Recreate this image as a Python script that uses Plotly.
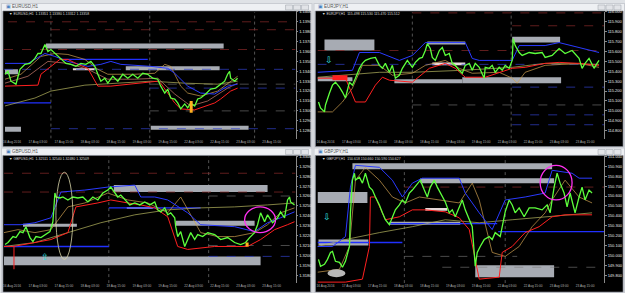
import plotly.graph_objects as go

W, H = 625, 293

# ---------------- DATA ----------------
symbols = ["EURUSD,H1", "EURJPY,H1", "GBPUSD,H1", "GBPJPY,H1"]
ohlc_text = ["1.13351 1.13380 1.13312 1.13358", "115.498 115.530 115.470 115.512",
             "1.32511 1.32540 1.32480 1.32509", "150.618 150.660 150.590 150.627"]
last_price = [1.1333, 115.50, 1.3250, 150.62]

date_labels = ["16 Aug 2016", "17 Aug 03:00", "17 Aug 15:00", "18 Aug 03:00", "18 Aug 15:00",
               "19 Aug 03:00", "19 Aug 15:00", "22 Aug 03:00", "22 Aug 15:00", "23 Aug 03:00",
               "23 Aug 15:00"]

# Panel 1 : EURUSD
p1_x = [1, 4, 7, 12, 16, 21, 26, 31, 34, 37, 41, 44, 47, 52, 57, 62, 67, 72, 77, 82, 87, 91, 94, 97,
        101, 104, 109, 114, 119, 124, 129, 134, 139, 144, 149, 154, 157, 161, 164, 167, 171, 174, 177,
        181, 184, 187, 191, 194, 197, 202, 207, 212, 217, 221, 224, 226, 227, 231, 234]
p1_y = [1.1337, 1.1340, 1.1330, 1.1327, 1.1342, 1.1347, 1.1348, 1.1353, 1.1358, 1.1358, 1.1367, 1.1360,
        1.1362, 1.1357, 1.1352, 1.1348, 1.1347, 1.1345, 1.1348, 1.1347, 1.1350, 1.1345, 1.1337, 1.1330,
        1.1333, 1.1328, 1.1335, 1.1330, 1.1337, 1.1333, 1.1337, 1.1333, 1.1338, 1.1337, 1.1333, 1.1332,
        1.1325, 1.1318, 1.1322, 1.1313, 1.1312, 1.1308, 1.1302, 1.1307, 1.1303, 1.1308, 1.1305, 1.1312,
        1.1313, 1.1317, 1.1322, 1.1323, 1.1327, 1.1330, 1.1337, 1.1340, 1.1333, 1.1330, 1.1333]
p1_red_x = [1, 34, 37, 47, 56, 64, 74, 84, 94, 107, 137, 154, 157, 171, 177, 191, 211, 217, 227, 234]
p1_red_y = [1.1325, 1.1326, 1.1337, 1.1345, 1.1352, 1.1352, 1.1347, 1.1343, 1.1325, 1.1325, 1.1328,
            1.1330, 1.1328, 1.1308, 1.1302, 1.1301, 1.1308, 1.1312, 1.1320, 1.1323]
p1_blue_x = [1, 24, 41, 51, 64, 84, 97, 107, 117, 147, 164, 171, 184, 197, 211, 224, 234]
p1_blue_y = [1.1348, 1.1348, 1.1358, 1.1355, 1.1350, 1.1345, 1.1347, 1.1350, 1.1347, 1.1345, 1.1343,
             1.1338, 1.1325, 1.1318, 1.1317, 1.1325, 1.1327]
p1_orange_x = [1, 17, 37, 51, 64, 81, 94, 104, 131, 151, 161, 167, 177, 184, 197, 214, 234]
p1_orange_y = [1.1332, 1.1337, 1.1355, 1.1358, 1.1357, 1.1352, 1.1342, 1.1337, 1.1337, 1.1338, 1.1347,
               1.1345, 1.1325, 1.1318, 1.1315, 1.1320, 1.1335]
p1_salmon_x = [1, 24, 44, 64, 84, 104, 131, 154, 171, 187, 204, 224, 234]
p1_salmon_y = [1.1328, 1.1335, 1.1350, 1.1348, 1.1342, 1.1332, 1.1332, 1.1333, 1.1317, 1.1305, 1.1310,
               1.1323, 1.1328]
p1_ma_x = [1, 31, 47, 81, 114, 147, 181, 214, 234]
p1_ma_y = [1.1305, 1.1313, 1.1320, 1.1326, 1.1328, 1.1330, 1.1328, 1.1327, 1.1330]

# Panel 2 : EURJPY
p2_x = [1, 3, 7, 8, 12, 15, 18, 22, 25, 28, 32, 35, 38, 42, 45, 48, 53, 58, 62, 65, 68, 72, 75, 78, 82,
        85, 90, 95, 98, 102, 105, 108, 110, 113, 115, 118, 122, 125, 128, 132, 135, 138, 142, 145, 148,
        152, 155, 158, 162, 165, 167, 168, 172, 175, 178, 182, 185, 188, 192, 195, 196, 198, 202, 205,
        212, 218, 225, 228, 235, 242, 248, 255, 262, 265, 268, 272, 277, 280, 282]
p2_y = [115.09, 115.03, 114.99, 115.06, 115.18, 115.26, 115.29, 115.24, 115.19, 115.13, 115.29, 115.26,
        115.33, 115.43, 115.48, 115.51, 115.53, 115.54, 115.46, 115.43, 115.48, 115.39, 115.46, 115.33,
        115.36, 115.43, 115.51, 115.44, 115.49, 115.53, 115.54, 115.61, 115.68, 115.63, 115.54, 115.51,
        115.61, 115.64, 115.56, 115.58, 115.48, 115.46, 115.41, 115.38, 115.46, 115.48, 115.41, 115.48,
        115.44, 115.38, 115.33, 115.44, 115.43, 115.46, 115.39, 115.44, 115.41, 115.46, 115.43, 115.51,
        115.73, 115.66, 115.59, 115.56, 115.59, 115.58, 115.59, 115.54, 115.56, 115.63, 115.58, 115.61,
        115.53, 115.43, 115.48, 115.53, 115.43, 115.48, 115.51]
p2_red_x = [0, 28, 38, 48, 58, 65, 72, 95, 112, 128, 138, 148, 168, 182, 195, 208, 228, 242, 262, 282]
p2_red_y = [115.33, 115.33, 115.09, 115.09, 115.26, 115.34, 115.31, 115.29, 115.43, 115.48, 115.43,
            115.34, 115.34, 115.39, 115.43, 115.44, 115.48, 115.49, 115.48, 115.46]
p2_blue_x = [0, 35, 42, 62, 82, 95, 108, 148, 155, 162, 182, 195, 202, 228, 242, 262, 282]
p2_blue_y = [115.39, 115.41, 115.59, 115.59, 115.51, 115.56, 115.69, 115.69, 115.53, 115.51, 115.51,
             115.51, 115.66, 115.66, 115.69, 115.64, 115.59]
p2_orange_x = [0, 15, 25, 35, 45, 62, 75, 95, 108, 128, 142, 155, 182, 195, 200, 208, 228, 262, 282]
p2_orange_y = [114.99, 114.99, 115.09, 115.23, 115.46, 115.46, 115.36, 115.38, 115.46, 115.51, 115.43,
               115.38, 115.39, 115.33, 115.28, 115.39, 115.46, 115.48, 115.44]
p2_ma_x = [0, 62, 95, 145, 195, 228, 282]
p2_ma_y = [115.34, 115.39, 115.39, 115.41, 115.44, 115.48, 115.47]

# Panel 3 : GBPUSD
p3_x = [1, 4, 9, 12, 16, 19, 22, 26, 29, 32, 37, 42, 46, 49, 51, 52, 56, 59, 64, 69, 74, 79, 84, 89, 94,
        99, 104, 107, 111, 114, 117, 122, 126, 131, 136, 141, 146, 151, 154, 157, 161, 164, 167, 171,
        172, 174, 177, 181, 184, 187, 191, 194, 199, 204, 211, 217, 224, 231, 237, 242, 246, 251, 254,
        257, 261, 264, 269, 274, 277, 281, 284, 286, 287, 291]
p3_y = [1.3211, 1.3213, 1.3219, 1.3218, 1.3224, 1.3223, 1.3229, 1.3218, 1.3214, 1.3219, 1.3218, 1.3221,
        1.3224, 1.3234, 1.3263, 1.3259, 1.3258, 1.3259, 1.3256, 1.3259, 1.3258, 1.3259, 1.3254, 1.3259,
        1.3256, 1.3263, 1.3266, 1.3269, 1.3263, 1.3259, 1.3261, 1.3256, 1.3251, 1.3253, 1.3251, 1.3254,
        1.3251, 1.3254, 1.3246, 1.3244, 1.3248, 1.3241, 1.3243, 1.3238, 1.3229, 1.3219, 1.3224, 1.3209,
        1.3216, 1.3223, 1.3216, 1.3221, 1.3219, 1.3223, 1.3221, 1.3216, 1.3218, 1.3213, 1.3211, 1.3213,
        1.3218, 1.3223, 1.3231, 1.3243, 1.3234, 1.3241, 1.3233, 1.3238, 1.3244, 1.3238, 1.3256, 1.3259,
        1.3254, 1.3251]
p3_red_x = [0, 9, 31, 47, 64, 72, 94, 107, 124, 137, 151, 164, 174, 184, 211, 244, 257, 271, 284, 291]
p3_red_y = [1.3209, 1.3209, 1.3213, 1.3216, 1.3223, 1.3249, 1.3253, 1.3256, 1.3253, 1.3251, 1.3248,
            1.3239, 1.3209, 1.3206, 1.3209, 1.3209, 1.3216, 1.3226, 1.3231, 1.3234]
p3_spike_x = [10, 10]
p3_spike_y = [1.3209, 1.3186]
p3_blue_x = [0, 17, 31, 47, 57, 81, 104, 131, 137, 151, 164, 184, 197, 231, 251, 264, 277, 291]
p3_blue_y = [1.3231, 1.3231, 1.3233, 1.3238, 1.3264, 1.3266, 1.3269, 1.3271, 1.3259, 1.3259, 1.3256,
             1.3243, 1.3231, 1.3229, 1.3224, 1.3233, 1.3238, 1.3244]
p3_orange_x = [0, 14, 31, 47, 64, 81, 104, 124, 144, 164, 177, 184, 197, 214, 231, 251, 264, 277, 291]
p3_orange_y = [1.3223, 1.3226, 1.3223, 1.3226, 1.3249, 1.3253, 1.3263, 1.3256, 1.3253, 1.3243, 1.3259,
               1.3246, 1.3223, 1.3219, 1.3219, 1.3223, 1.3231, 1.3243, 1.3248]
p3_ma_x = [0, 31, 64, 97, 131, 164, 197, 231, 264, 291]
p3_ma_y = [1.3209, 1.3213, 1.3223, 1.3233, 1.3241, 1.3246, 1.3248, 1.3249, 1.3251, 1.3253]

# Panel 4 : GBPJPY
p4_x = [1, 3, 7, 10, 13, 15, 18, 22, 25, 28, 32, 33, 35, 37, 38, 42, 45, 48, 52, 55, 58, 62, 65, 68,
        72, 75, 78, 82, 85, 88, 92, 95, 100, 103, 107, 110, 113, 117, 120, 123, 128, 132, 135, 138, 142,
        145, 148, 152, 155, 158, 160, 163, 167, 172, 175, 178, 183, 188, 192, 195, 198, 202, 207, 212,
        218, 225, 230, 233, 237, 240, 243, 247, 250, 253, 258, 262, 265, 268, 272, 275]
p4_y = [149.96, 149.89, 149.91, 149.96, 150.03, 150.04, 149.94, 149.93, 149.88, 149.94, 150.09, 150.43,
        150.76, 150.83, 150.76, 150.79, 150.73, 150.83, 150.69, 150.66, 150.59, 150.51, 150.43, 150.36,
        150.31, 150.39, 150.46, 150.51, 150.56, 150.53, 150.63, 150.66, 150.73, 150.76, 150.66, 150.59,
        150.69, 150.76, 150.69, 150.63, 150.54, 150.43, 150.46, 150.39, 150.49, 150.56, 150.46, 150.36,
        150.29, 149.89, 150.03, 150.09, 150.16, 150.19, 150.16, 150.23, 150.19, 150.44, 150.56, 150.51,
        150.43, 150.48, 150.39, 150.48, 150.48, 150.46, 150.51, 150.43, 150.69, 150.83, 150.73, 150.63,
        150.49, 150.63, 150.43, 150.59, 150.69, 150.56, 150.66, 150.63]
p4_red_x = [0, 28, 45, 52, 53, 58, 68, 82, 95, 108, 128, 142, 152, 162, 182, 185, 195, 208, 222, 235, 248, 275]
p4_red_y = [149.73, 149.73, 149.76, 150.09, 150.59, 150.59, 150.36, 150.39, 150.46, 150.46, 150.44,
            150.38, 150.26, 149.76, 149.78, 150.03, 150.09, 150.23, 150.29, 150.39, 150.41, 150.41]
p4_blue_x = [0, 15, 28, 33, 38, 62, 75, 85, 95, 105, 142, 148, 162, 175, 188, 208, 228, 235, 255, 262, 275]
p4_blue_y = [150.09, 150.09, 150.19, 150.69, 150.91, 150.89, 150.76, 150.59, 150.73, 150.78, 150.78,
             150.63, 150.43, 150.26, 150.56, 150.59, 150.63, 150.86, 150.83, 150.78, 150.78]
p4_orange_x = [0, 22, 32, 38, 48, 62, 75, 88, 102, 122, 142, 155, 162, 175, 188, 202, 215, 228, 235,
               248, 262, 275]
p4_orange_y = [149.83, 149.86, 150.09, 150.76, 150.89, 150.76, 150.59, 150.53, 150.59, 150.56, 150.53,
               150.73, 150.56, 150.03, 149.99, 150.09, 150.29, 150.43, 150.56, 150.76, 150.59, 150.53]
p4_ma_x = [0, 28, 62, 95, 128, 162, 195, 228, 275]
p4_ma_y = [150.09, 150.16, 150.23, 150.29, 150.36, 150.33, 150.36, 150.39, 150.43]

# Supply / demand zones: x0, x1, low, high
p1_zones = [(42, 220, 1.1363, 1.1368), (122, 216, 1.1341, 1.1345), (1, 14, 1.1337, 1.1342),
            (1, 17, 1.1279, 1.1284), (147, 245, 1.1281, 1.1285)]
p2_zones = [(7, 57, 115.61, 115.72), (110, 148, 115.67, 115.70), (77, 145, 115.28, 115.32),
            (145, 244, 115.28, 115.34), (195, 243, 115.69, 115.75), (0, 35, 115.30, 115.34)]
p3_zones = [(110, 264, 1.3264, 1.3271), (19, 73, 1.3229, 1.3232), (172, 251, 1.3230, 1.3235),
            (0, 257, 1.3190, 1.3199)]
p4_zones = [(35, 235, 150.87, 150.93), (103, 237, 150.73, 150.78), (0, 50, 150.53, 150.64),
            (1, 51, 150.10, 150.16), (72, 143, 150.31, 150.34), (158, 237, 149.78, 149.90)]
pale_zones = [[(69, 91, 1.1341, 1.1343)], [(115, 148, 115.46, 115.49)],
              [(123, 149, 1.3247, 1.3249)], [(108, 130, 150.45, 150.48)]]
marker_zones = [[(186, 189, 1.1298, 1.1310)], [(15, 30, 115.31, 115.36)],
                [(242, 245, 1.3209, 1.3213)], []]

# Level lines: price, x0, x1, kind
p1_levels = [(1.1390, 4, 292, "res"), (1.1382, 47, 292, "res"), (1.1362, 0, 292, "res"),
             (1.1342, 0, 292, "blue"), (1.1352, 57, 144, "bluesolid"), (1.1327, 146, 292, "grey"),
             (1.1323, 146, 292, "blue"), (1.1300, 146, 292, "grey"), (1.1308, 0, 47, "bluesolid"),
             (1.1282, 47, 292, "blue")]
p2_levels = [(115.99, 95, 287, "res"), (115.86, 195, 287, "res"), (115.61, 0, 287, "res"),
             (115.47, 0, 287, "blue"), (115.06, 95, 287, "grey"), (114.96, 195, 287, "blue"),
             (114.86, 195, 287, "blue"), (115.24, 195, 287, "blue")]
p3_levels = [(1.3283, 0, 292, "res"), (1.3264, 0, 292, "res"), (1.3209, 0, 105, "bluesolid"),
             (1.3199, 205, 292, "blue"), (1.3260, 205, 292, "grey"), (1.3210, 205, 292, "grey"),
             (1.3248, 105, 197, "bluesolid")]
p4_levels = [(150.24, 181, 287, "bluesolid"), (150.13, 0, 85, "bluesolid"), (150.69, 87, 287, "res"),
             (149.88, 125, 287, "grey"), (149.99, 87, 200, "grey"), (150.32, 72, 180, "bluesolid")]

separators = [[47, 146, 251], [95, 194], [105, 205], [87, 188]]

# ellipses: panel, x0, x1, low, high, kind
ellipses = [(2, 52, 69, 1.3196, 1.3284, "yellow"), (2, 241, 272, 1.3223, 1.3249, "magenta"),
            (3, 223, 255, 150.56, 150.91, "magenta"), (3, 10, 28, 149.78, 149.86, "blob")]
arrows = [(1, 12, 115.51, "⇩"), (2, 41, 1.3198, "⇧"), (3, 10, 150.39, "⇩")]

# ---------------- LAYOUT ----------------
plot_px = [(3, 295, 9, 137), (317, 604, 9, 137), (3, 295, 155, 283), (317, 604, 155, 283)]
win_px = [(0, 312, 0, 146), (313, 625, 0, 146), (0, 312, 146, 293), (313, 625, 146, 293)]
yranges = [(1.1272, 1.1400), (114.72, 116.00), (1.3172, 1.3300), (149.72, 151.00)]
dticks = [0.001, 0.1, 0.001, 0.1]
fmts = [".4f", ".3f", ".4f", ".3f"]
xw = [292, 287, 292, 287]

fig = go.Figure()
series = [
    (p1_x, p1_y, [(p1_ma_x, p1_ma_y), (p1_salmon_x, p1_salmon_y), (p1_orange_x, p1_orange_y),
                  (p1_blue_x, p1_blue_y), (p1_red_x, p1_red_y)]),
    (p2_x, p2_y, [(p2_ma_x, p2_ma_y), (p2_orange_x, p2_orange_y), (p2_blue_x, p2_blue_y),
                  (p2_red_x, p2_red_y)]),
    (p3_x, p3_y, [(p3_ma_x, p3_ma_y), (p3_orange_x, p3_orange_y), (p3_blue_x, p3_blue_y),
                  (p3_red_x, p3_red_y), (p3_spike_x, p3_spike_y)]),
    (p4_x, p4_y, [(p4_ma_x, p4_ma_y), (p4_orange_x, p4_orange_y), (p4_blue_x, p4_blue_y),
                  (p4_red_x, p4_red_y)]),
]
zones = [p1_zones, p2_zones, p3_zones, p4_zones]
levels = [p1_levels, p2_levels, p3_levels, p4_levels]

style_lists = [
    [("#b8b860", 0.7), ("#d08070", 0.7), ("#d0a050", 0.7), ("#2a3aff", 1.0), ("#ff2020", 1.0)],
    [("#b8b860", 0.7), ("#d0a050", 0.7), ("#2a3aff", 1.0), ("#ff2020", 1.0)],
    [("#b8b860", 0.7), ("#d0a050", 0.7), ("#2a3aff", 1.0), ("#ff2020", 1.0), ("#ff2020", 1.0)],
    [("#b8b860", 0.7), ("#d0a050", 0.7), ("#2a3aff", 1.0), ("#ff2020", 1.0)],
]

shapes = []
annotations = []
for i in range(4):
    sfx = "" if i == 0 else str(i + 1)
    xa, ya = "x" + sfx, "y" + sfx
    wx0, wx1, wy0, wy1 = win_px[i]
    px0, px1, py0, py1 = plot_px[i]
    # window frame, title bar, black chart area
    shapes.append(dict(type="rect", xref="paper", yref="paper", x0=wx0 / W, x1=wx1 / W,
                       y0=1 - wy1 / H, y1=1 - wy0 / H, fillcolor="#c9ccd2", line=dict(width=0), layer="below"))
    shapes.append(dict(type="rect", xref="paper", yref="paper", x0=(wx0 + 1) / W, x1=(wx1 - 1) / W,
                       y0=1 - (wy0 + 8) / H, y1=1 - (wy0 + 1) / H, fillcolor="#eef0f3", line=dict(width=0), layer="below"))
    shapes.append(dict(type="rect", xref="paper", yref="paper", x0=(wx0 + 2) / W, x1=(wx1 - 2) / W,
                       y0=1 - (wy1 - 1) / H, y1=1 - (wy0 + 8) / H, fillcolor="#000000",
                       line=dict(color="#8a8f99", width=0.6), layer="below"))
    for b in range(3):
        bx = wx1 - 27 + b * 8
        shapes.append(dict(type="rect", xref="paper", yref="paper", x0=bx / W, x1=(bx + 7) / W,
                           y0=1 - (wy0 + 7) / H, y1=1 - (wy0 + 2) / H, fillcolor="#e2e4e8",
                           line=dict(color="#9aa0a8", width=0.5), layer="below"))
    annotations.append(dict(xref="paper", yref="paper", x=(wx0 + 9) / W, y=1 - (wy0 + 4) / H,
                            text=symbols[i], showarrow=False, xanchor="left", yanchor="middle",
                            font=dict(size=4.5, color="#555555")))
    annotations.append(dict(xref="paper", yref="paper", x=(wx0 + 3) / W, y=1 - (wy0 + 4) / H,
                            text="▣", showarrow=False, xanchor="left", yanchor="middle",
                            font=dict(size=4.5, color="#4a7fc0")))
    annotations.append(dict(xref="paper", yref="paper", x=(px0 + 3) / W, y=1 - (py0 + 2.5) / H,
                            text="▼ " + symbols[i] + "  " + ohlc_text[i], showarrow=False,
                            xanchor="left", yanchor="middle", font=dict(size=3.5, color="#dddddd")))
    annotations.append(dict(xref=xa, yref=ya, x=xw[i] + 1, y=last_price[i], xanchor="left",
                            text=format(last_price[i], fmts[i]), showarrow=False, bgcolor="#ffffff",
                            borderpad=0, font=dict(size=4, color="#000000")))

    fig.layout["xaxis" + sfx] = dict(domain=[px0 / W, px1 / W], range=[0, xw[i]], anchor=ya,
                                     showgrid=False, zeroline=False, showline=False,
                                     tickvals=[k * 26 + 8 for k in range(len(date_labels))],
                                     ticktext=date_labels, tickangle=0, ticks="",
                                     tickfont=dict(size=3.2, color="#b0b0b0"))
    fig.layout["yaxis" + sfx] = dict(domain=[1 - py1 / H, 1 - py0 / H], range=list(yranges[i]),
                                     anchor=xa, side="right", dtick=dticks[i], tickformat=fmts[i],
                                     showgrid=False, zeroline=False, showline=True, linecolor="#8a8a8a",
                                     linewidth=0.6, ticks="outside", ticklen=2, tickcolor="#8a8a8a",
                                     tickfont=dict(size=4, color="#e8e8e8"))

    # separators
    for sx in separators[i]:
        shapes.append(dict(type="line", xref=xa, yref=ya, x0=sx, x1=sx, y0=yranges[i][0], y1=yranges[i][1],
                           line=dict(color="#8c8c8c", width=0.6, dash="dot"), layer="below"))
    # zones
    for (z0, z1, lo, hi) in zones[i]:
        shapes.append(dict(type="rect", xref=xa, yref=ya, x0=z0, x1=z1, y0=lo, y1=hi,
                           fillcolor="#a7abb3", line=dict(width=0), layer="below"))
    for (z0, z1, lo, hi) in pale_zones[i]:
        shapes.append(dict(type="rect", xref=xa, yref=ya, x0=z0, x1=z1, y0=lo, y1=hi,
                           fillcolor="#e6d8d8", line=dict(width=0), layer="below"))
    for (z0, z1, lo, hi) in marker_zones[i]:
        shapes.append(dict(type="rect", xref=xa, yref=ya, x0=z0, x1=z1, y0=lo, y1=hi,
                           fillcolor="#ffb020" if i != 1 else "#ff2020", line=dict(width=0), layer="above"))
    # level lines
    for (lv, l0, l1, kind) in levels[i]:
        if kind == "res":
            ln = dict(color="#8a2a2a", width=0.7, dash="dash")
        elif kind == "blue":
            ln = dict(color="#3040c8", width=0.7, dash="dash")
        elif kind == "bluesolid":
            ln = dict(color="#2030ff", width=1.3)
        else:
            ln = dict(color="#7a7a7a", width=0.6, dash="dash")
        shapes.append(dict(type="line", xref=xa, yref=ya, x0=l0, x1=l1, y0=lv, y1=lv, line=ln, layer="below"))

    px_, py_, inds = series[i]
    for (ix, iy), (col, wd) in zip(inds, style_lists[i]):
        fig.add_trace(go.Scatter(x=ix, y=iy, mode="lines", line=dict(color=col, width=wd),
                                 xaxis=xa, yaxis=ya, hoverinfo="skip", showlegend=False))
    fig.add_trace(go.Scatter(x=px_, y=py_, mode="lines", line=dict(color="#5dff3c", width=1.3),
                             xaxis=xa, yaxis=ya, hoverinfo="skip", showlegend=False))

for (pi, e0, e1, lo, hi, kind) in ellipses:
    sfx = "" if pi == 0 else str(pi + 1)
    if kind == "yellow":
        d = dict(line=dict(color="#d8d4a8", width=0.8))
    elif kind == "magenta":
        d = dict(line=dict(color="#ff30f0", width=1.3))
    else:
        d = dict(line=dict(width=0), fillcolor="#b8b8b8")
    shapes.append(dict(type="circle", xref="x" + sfx, yref="y" + sfx, x0=e0, x1=e1, y0=lo, y1=hi, **d))

for (pi, ax_, ay_, sym) in arrows:
    sfx = "" if pi == 0 else str(pi + 1)
    annotations.append(dict(xref="x" + sfx, yref="y" + sfx, x=ax_, y=ay_, text=sym, showarrow=False,
                            font=dict(size=9, color="#30e0e0")))

fig.update_layout(width=W, height=H, margin=dict(l=0, r=0, t=0, b=0), autosize=False,
                  paper_bgcolor="#dfe2e6", plot_bgcolor="#000000",
                  font=dict(family="Liberation Sans, Arial, sans-serif"),
                  shapes=shapes, annotations=annotations, showlegend=False)

fig.write_html("out.html")
